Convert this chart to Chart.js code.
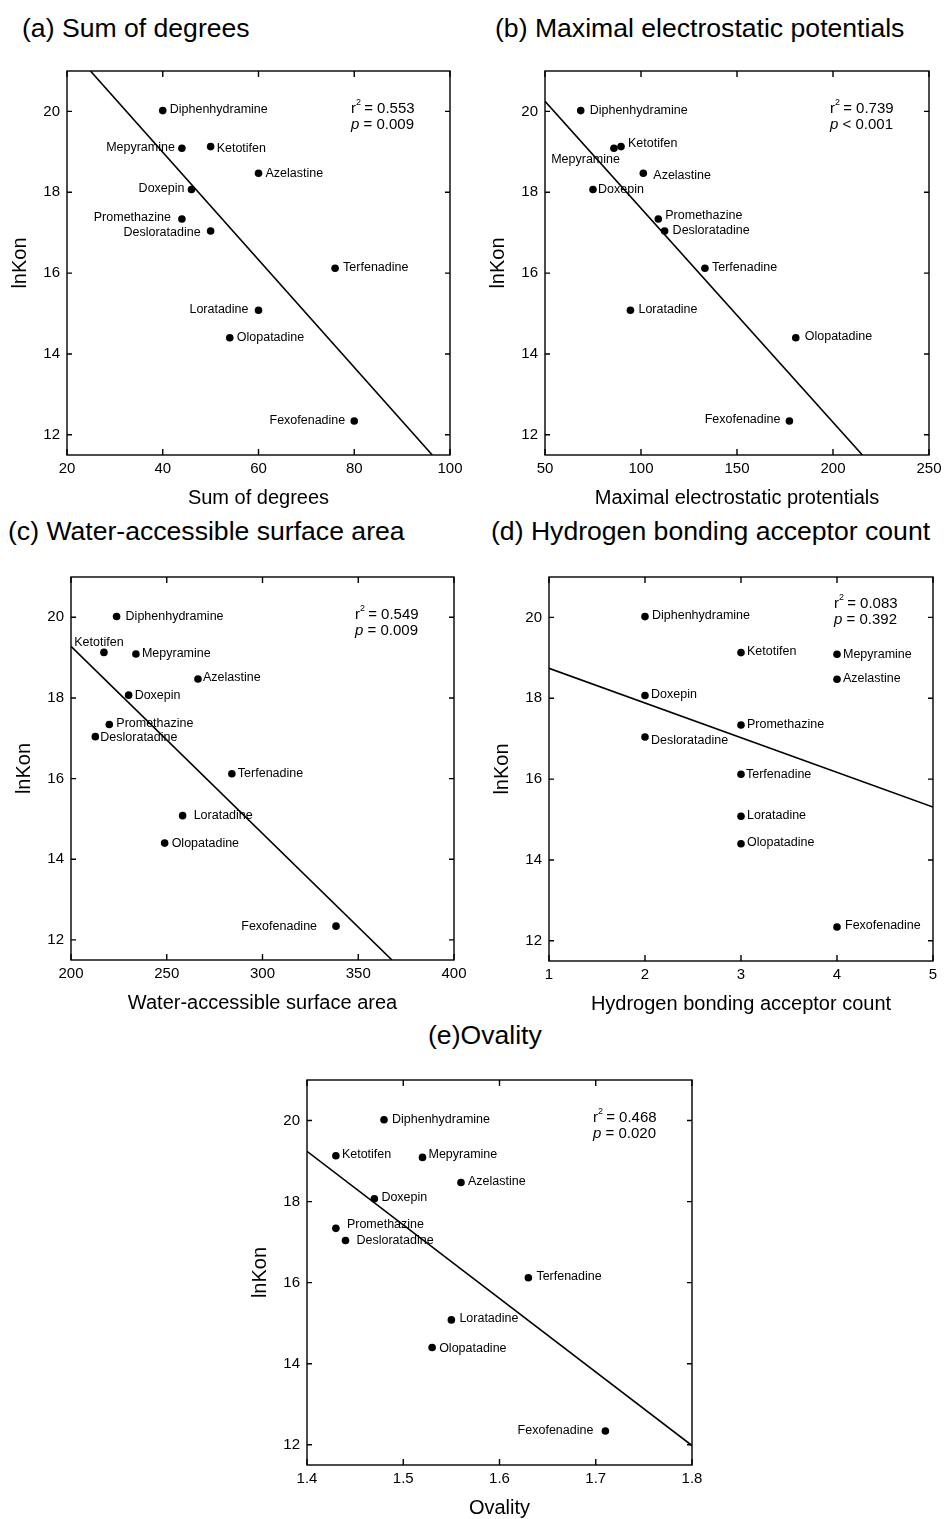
<!DOCTYPE html>
<html>
<head>
<meta charset="utf-8">
<script src="https://cdn.jsdelivr.net/npm/chart.js@4.4.0/dist/chart.umd.min.js"></script>
<style>
  body { margin: 0; background: #fff; width: 946px; height: 1519px; position: relative; overflow: hidden;
         font-family: "Liberation Sans", Arial, sans-serif; color: #000; }
  .title { position: absolute; font-size: 26.6px; line-height: 30px; white-space: nowrap; }
  canvas { position: absolute; }
</style>
</head>
<body>
<div class="title" style="left:22px;top:13px">(a) Sum of degrees</div>
<div class="title" style="left:495px;top:13px">(b) Maximal electrostatic potentials</div>
<div class="title" style="left:8px;top:516px">(c) Water-accessible surface area</div>
<div class="title" style="left:491px;top:516px">(d) Hydrogen bonding acceptor count</div>
<div class="title" style="left:428px;top:1020px">(e)Ovality</div>

<canvas id="chartA"></canvas>
<canvas id="chartB"></canvas>
<canvas id="chartC"></canvas>
<canvas id="chartD"></canvas>
<canvas id="chartE"></canvas>

<script>
'use strict'

// drug order is the same for every panel
const drugs = ['Diphenhydramine', 'Mepyramine', 'Ketotifen', 'Azelastine', 'Doxepin', 'Promethazine',
    'Desloratadine', 'Terfenadine', 'Loratadine', 'Olopatadine', 'Fexofenadine'];
const lnKon = [20.02, 19.09, 19.13, 18.47, 18.07, 17.34, 17.04, 16.12, 15.08, 14.40, 12.34];

const sumDegrees = [40, 44, 50, 60, 46, 44, 50, 76, 60, 54, 80];
const maxPotential = [68.6, 85.9, 89.6, 101.2, 75, 109, 112.3, 133.3, 94.5, 180.6, 177.3];
const waterArea = [223.8, 233.9, 217.2, 266.3, 230.1, 220, 212.7, 284, 258.3, 248.9, 338.4];
const hbAcceptor = [2, 4, 3, 4, 2, 3, 2, 3, 3, 3, 4];
const ovality = [1.48, 1.52, 1.43, 1.56, 1.47, 1.43, 1.44, 1.63, 1.55, 1.53, 1.71];

// regression line end points
const fitSumX = [24.9, 96.3], fitSumY = [21.0, 11.5];
const fitPotX = [50, 215.3], fitPotY = [20.25, 11.5];
const fitWaterX = [200, 367.6], fitWaterY = [19.28, 11.5];
const fitHbX = [1, 5], fitHbY = [18.74, 15.31];
const fitOvalX = [1.4, 1.8], fitOvalY = [19.24, 11.98];

const r2Values = ['0.553', '0.739', '0.549', '0.083', '0.468'];
const pValues = ['= 0.009', '< 0.001', '= 0.009', '= 0.392', '= 0.020'];

const yTicks = [12, 14, 16, 18, 20];
const sumTicks = [20, 40, 60, 80, 100];
const potTicks = [50, 100, 150, 200, 250];
const waterTicks = [200, 250, 300, 350, 400];
const hbTicks = [1, 2, 3, 4, 5];
const ovalTicks = [1.4, 1.5, 1.6, 1.7, 1.8];

const FONT = '"Liberation Sans", Arial, sans-serif';
Chart.defaults.font.family = FONT;
Chart.defaults.color = '#000';

// label placement per point: [textAlign, dx, dy]
const placeA = [['left', 7, -1], ['right', -7, -1], ['left', 6, 2], ['left', 7, 0], ['right', -7, -1],
    ['right', -11, -1], ['right', -10, 1], ['left', 8, -1], ['right', -10, -1], ['left', 7, 0], ['right', -9, 0]];
const placeB = [['left', 9, 0], ['right', 6, 11], ['left', 7, -3], ['left', 10, 2], ['left', 5, 0],
    ['left', 7, -3], ['left', 8, -1], ['left', 7, -1], ['left', 8, -1], ['left', 9, -1], ['right', -9, -1]];
const placeC = [['left', 9, 0], ['left', 6, 0], ['center', -5, -10], ['left', 5, -1], ['left', 6, 0],
    ['left', 7, -1], ['left', 5, 1], ['left', 6, 0], ['left', 11, 0], ['left', 7, 0], ['right', -19, 0]];
const placeD = [['left', 7, -1], ['left', 6, 0], ['left', 6, -1], ['left', 6, -1], ['left', 6, -1],
    ['left', 6, 0], ['left', 6, 3], ['left', 5, 0], ['left', 6, -1], ['left', 6, -1], ['left', 8, -1]];
const placeE = [['left', 8, 0], ['left', 6, -3], ['left', 6, -1], ['left', 7, -1], ['left', 7, -1],
    ['left', 11, -4], ['left', 11, 0], ['left', 8, -1], ['left', 8, -1], ['left', 7, 1], ['right', -12, 0]];

// frame, inward ticks, point names and the r2 / p box
const decor = {
    id: 'decor',
    afterDatasetsDraw(chart, args, opts) {
        const {ctx, chartArea: a, scales: {x, y}} = chart;
        ctx.save();
        ctx.strokeStyle = '#000';
        ctx.lineWidth = 1.4;
        ctx.strokeRect(a.left, a.top, a.right - a.left, a.bottom - a.top);
        ctx.beginPath();
        x.ticks.forEach(t => {
            const px = x.getPixelForValue(t.value);
            ctx.moveTo(px, a.top); ctx.lineTo(px, a.top + 6);
            ctx.moveTo(px, a.bottom); ctx.lineTo(px, a.bottom - 6);
        });
        y.ticks.forEach(t => {
            const py = y.getPixelForValue(t.value);
            ctx.moveTo(a.left, py); ctx.lineTo(a.left + 5, py);
            ctx.moveTo(a.right, py); ctx.lineTo(a.right - 5, py);
        });
        ctx.stroke();

        ctx.fillStyle = '#000';
        ctx.textBaseline = 'middle';
        ctx.font = '12.5px ' + FONT;
        chart.getDatasetMeta(0).data.forEach((pt, i) => {
            const [align, dx, dy] = opts.place[i];
            ctx.textAlign = align;
            ctx.fillText(drugs[i], pt.x + dx, pt.y + dy);
        });

        const sx = a.right - 99;
        const sy = a.top + opts.statTop;
        ctx.textAlign = 'left';
        ctx.font = '15px ' + FONT;
        ctx.fillText('r', sx, sy);
        const rw = ctx.measureText('r').width;
        ctx.font = '9px ' + FONT;
        ctx.fillText('2', sx + rw, sy - 6);
        ctx.font = '15px ' + FONT;
        ctx.fillText(' = ' + opts.r2, sx + rw + 4, sy);
        ctx.font = 'italic 15px ' + FONT;
        ctx.fillText('p', sx, sy + 16);
        const pw = ctx.measureText('p').width;
        ctx.font = '15px ' + FONT;
        ctx.fillText(' ' + opts.p, sx + pw, sy + 16);
        ctx.restore();
    }
};

function makePanel(id, box, xs, xMin, xMax, xTicks, xTitle, fitX, fitY, place, r2, p, statTop) {
    const canvas = document.getElementById(id);
    const w = (box.r - box.l) + 87;
    const h = (box.b - box.t) + 80;
    canvas.width = w;
    canvas.height = h;
    canvas.style.left = (box.l - 67) + 'px';
    canvas.style.top = (box.t - 20) + 'px';
    canvas.style.width = w + 'px';
    canvas.style.height = h + 'px';

    const points = xs.map((v, i) => ({x: v, y: lnKon[i]}));
    const fit = fitX.map((v, i) => ({x: v, y: fitY[i]}));

    new Chart(canvas.getContext('2d'), {
        type: 'scatter',
        data: {
            datasets: [{
                data: points,
                pointRadius: 3.8,
                pointHoverRadius: 3.8,
                backgroundColor: '#000',
                borderWidth: 0,
            }, {
                data: fit,
                showLine: true,
                pointRadius: 0,
                borderColor: '#000',
                borderWidth: 1.6,
            }]
        },
        options: {
            responsive: false,
            animation: false,
            devicePixelRatio: 1,
            layout: {padding: {left: 0, top: 20, right: 20, bottom: 0}},
            plugins: {
                legend: {display: false},
                tooltip: {enabled: false},
                decor: {place: place, r2: r2, p: p, statTop: statTop}
            },
            scales: {
                x: {
                    type: 'linear',
                    min: xMin,
                    max: xMax,
                    afterBuildTicks: s => { s.ticks = xTicks.map(v => ({value: v})); },
                    afterFit: s => { s.height = 60; },
                    grid: {display: false, drawTicks: false},
                    border: {display: false},
                    ticks: {font: {size: 15}, padding: 5, maxRotation: 0, autoSkip: false, callback: v => String(v)},
                    title: {display: true, text: xTitle, font: {size: 20}, padding: {top: 0, bottom: 5}}
                },
                y: {
                    type: 'linear',
                    min: 11.5,
                    max: 21,
                    afterBuildTicks: s => { s.ticks = yTicks.map(v => ({value: v})); },
                    afterFit: s => { s.width = 67; },
                    grid: {display: false, drawTicks: false},
                    border: {display: false},
                    ticks: {font: {size: 15}, padding: 7, callback: v => String(v)},
                    title: {display: true, text: 'lnKon', font: {size: 20}, padding: {top: 8, bottom: 0}}
                }
            }
        },
        plugins: [decor]
    });
}

makePanel('chartA', {l: 67, t: 71, r: 450, b: 455}, sumDegrees, 20, 100, sumTicks, 'Sum of degrees',
    fitSumX, fitSumY, placeA, r2Values[0], pValues[0], 38);
makePanel('chartB', {l: 545, t: 71, r: 929, b: 455}, maxPotential, 50, 250, potTicks, 'Maximal electrostatic protentials',
    fitPotX, fitPotY, placeB, r2Values[1], pValues[1], 38);
makePanel('chartC', {l: 71, t: 577, r: 454, b: 960}, waterArea, 200, 400, waterTicks, 'Water-accessible surface area',
    fitWaterX, fitWaterY, placeC, r2Values[2], pValues[2], 38);
makePanel('chartD', {l: 549, t: 577, r: 933, b: 961}, hbAcceptor, 1, 5, hbTicks, 'Hydrogen bonding acceptor count',
    fitHbX, fitHbY, placeD, r2Values[3], pValues[3], 27);
makePanel('chartE', {l: 307, t: 1080, r: 692, b: 1465}, ovality, 1.4, 1.8, ovalTicks, 'Ovality',
    fitOvalX, fitOvalY, placeE, r2Values[4], pValues[4], 38);
</script>
</body>
</html>
